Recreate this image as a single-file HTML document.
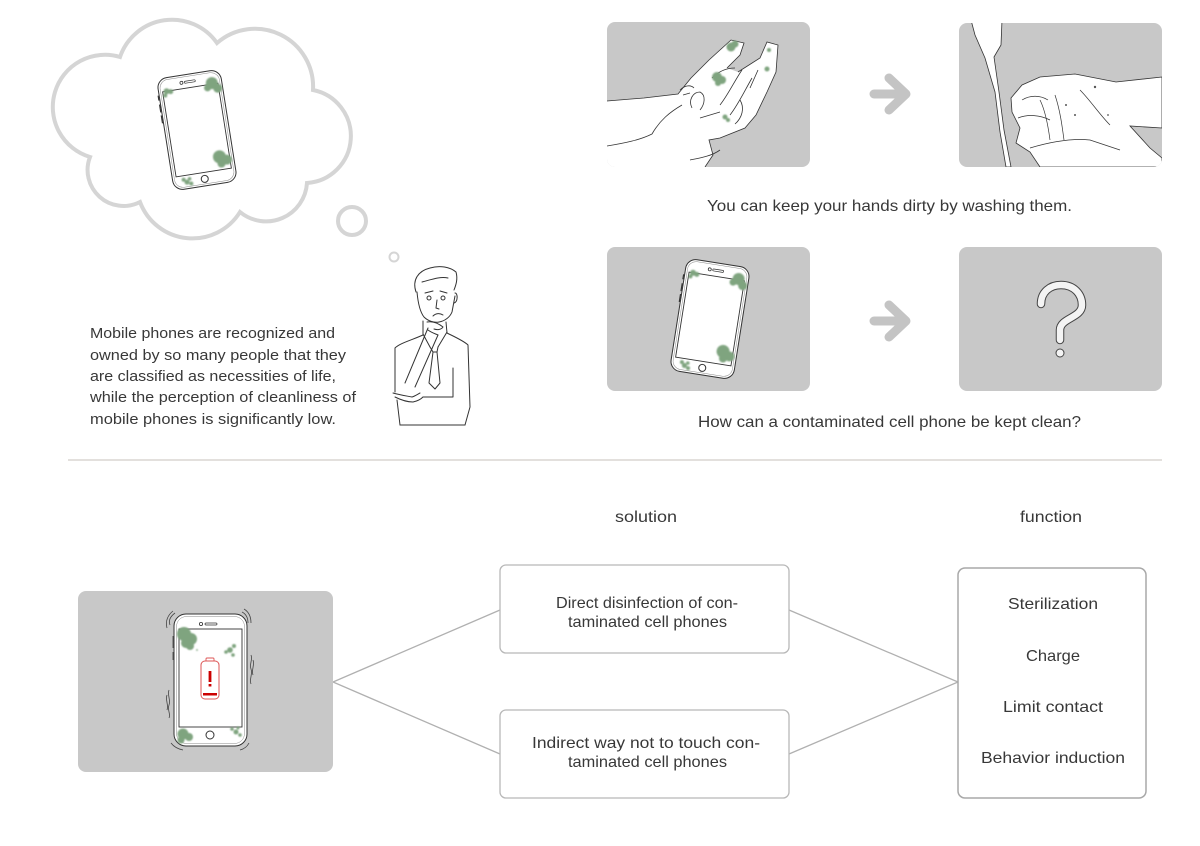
<!DOCTYPE html>
<html>
<head>
<meta charset="utf-8">
<style>
html,body{margin:0;padding:0;background:#fff;}
svg{display:block;}
text{font-family:"Liberation Sans",sans-serif;fill:#383838;}
</style>
</head>
<body>
<svg width="1200" height="846" viewBox="0 0 1200 846" xmlns="http://www.w3.org/2000/svg">
<defs>
  <filter id="bl" x="-50%" y="-50%" width="200%" height="200%"><feGaussianBlur stdDeviation="0.8"/></filter>
  <clipPath id="c1"><rect x="607" y="22" width="203" height="145" rx="8"/></clipPath>
  <clipPath id="c2"><rect x="959" y="23" width="203" height="144" rx="8"/></clipPath>
  <g id="phone">
    <rect x="-32" y="-56.5" width="64" height="113" rx="10" fill="#fff" stroke="#333" stroke-width="1"/>
    <rect x="-30" y="-54.5" width="60" height="109" rx="8.5" fill="none" stroke="#888" stroke-width="0.5"/>
    <rect x="-28" y="-43" width="56" height="86" fill="#fff" stroke="#333" stroke-width="0.9"/>
    <circle cx="0" cy="49.5" r="3.5" fill="none" stroke="#333" stroke-width="1"/>
    <circle cx="-8" cy="-49" r="1.5" fill="none" stroke="#333" stroke-width="0.8"/>
    <rect x="-5" y="-50" width="11" height="2" rx="1" fill="none" stroke="#333" stroke-width="0.7"/>
    <path d="M-33,-40 v5 M-33,-31 v8 M-33,-20 v8" stroke="#333" stroke-width="1.2" fill="none"/>
    <g fill="#7fa47f" filter="url(#bl)">
      <circle cx="-24" cy="-43" r="3"/><circle cx="-20" cy="-42" r="2.5"/><circle cx="-26" cy="-39" r="2"/>
      <circle cx="22" cy="-44" r="6"/><circle cx="27" cy="-38" r="4.5"/><circle cx="17" cy="-40" r="3.5"/>
      <circle cx="18" cy="30" r="6.5"/><circle cx="25" cy="34" r="5"/><circle cx="19" cy="37" r="4"/>
      <circle cx="-18" cy="50" r="2.5"/><circle cx="-21" cy="47" r="2"/><circle cx="-14" cy="52" r="2"/><circle cx="-15" cy="47" r="1.8"/>
    </g>
  </g>
</defs>

<!-- Thought cloud -->
<path d="M120,57 A55,55 0 0 1 217,43 A58,58 0 0 1 313,90 A47,47 0 0 1 307,183 A41,41 0 0 1 240,212 A56,56 0 0 1 140,202 A36,36 0 0 1 90,157 A52,52 0 0 1 120,57 Z" fill="#fff" stroke="#d5d5d5" stroke-width="4"/>
<circle cx="352" cy="221" r="14" fill="#fff" stroke="#d5d5d5" stroke-width="4"/>
<circle cx="394" cy="257" r="4.5" fill="#fff" stroke="#d5d5d5" stroke-width="2"/>
<use href="#phone" transform="translate(197,130) rotate(-9)"/>

<!-- Man -->
<g fill="none" stroke="#333" stroke-width="1" stroke-linecap="round" stroke-linejoin="round">
  <path d="M416,292 C412,280 418,271 430,268 C440,265 450,267 456,272 C458,279 456,285 454,290"/>
  <path d="M422,282 C430,280 440,276 448,278"/>
  <path d="M417,292 C418,303 420,312 424,317 C428,321 434,323 439,322 C445,321 450,317 452,312 L455,296"/>
  <path d="M455,293 C458,293 458,302 454,303"/>
  <path d="M425,293 L433,291 M440,291 L447,293"/>
  <circle cx="429" cy="298" r="2"/><circle cx="443" cy="298" r="2"/>
  <path d="M437,300 L436,308 L439,309"/>
  <path d="M433,316 C436,313 440,313 443,315"/>
  <path d="M423,321 L423,335 M446,322 L447,333"/>
  <path d="M423,334 L430,347 M447,332 L438,347"/>
  <path d="M423,335 C412,340 400,343 395,348 L395,392 M397,400 L400,425"/>
  <path d="M447,333 C455,337 464,341 468,345 L470,407 L465,425"/>
  <path d="M400,425 L465,425"/>
  <path d="M430,347 L433,352 L429,383 L435,389 L440,383 L437,352 L438,347"/>
  <path d="M433,352 L437,352"/>
  <path d="M427,322 C432,321 438,323 443,327 C441,330 437,330 434,329 M428,330 C432,333 436,334 438,335"/>
  <path d="M428,328 L405,383 M438,335 L415,387"/>
  <path d="M393,393 C400,395 407,396 412,397 C415,396 418,394 420,393 M395,397 C401,400 407,402 413,402 C418,401 421,399 423,397"/>
  <path d="M453,368 L453,397 L423,397"/>
</g>

<!-- Paragraph -->
<g font-size="15">
  <text x="90" y="338" textLength="245" lengthAdjust="spacingAndGlyphs">Mobile phones are recognized and</text>
  <text x="90" y="360" textLength="256" lengthAdjust="spacingAndGlyphs">owned by so many people that they</text>
  <text x="90" y="381" textLength="246" lengthAdjust="spacingAndGlyphs">are classified as necessities of life,</text>
  <text x="90" y="402" textLength="266" lengthAdjust="spacingAndGlyphs">while the perception of cleanliness of</text>
  <text x="90" y="424" textLength="246" lengthAdjust="spacingAndGlyphs">mobile phones is significantly low.</text>
</g>

<!-- Panel 1: dirty hand -->
<rect x="607" y="22" width="203" height="145" rx="8" fill="#c8c8c8"/>
<g clip-path="url(#c1)">
  <path d="M607,101 L644,98 L678,94 L691,78 L709,60 L731,40 L744,43 L740,55 L727,68 L738,72 L760,58 L767,42 L778,45 L776,72 L767,92 L756,115 L745,128 L720,138 L709,140 L713,155 L705,167 L607,167 Z" fill="#fff"/>
  <g fill="none" stroke="#333" stroke-width="0.8">
    <path d="M607,101 L644,98 L678,94 L691,78 L709,60 L731,40 L744,43 L740,55 L727,68"/>
    <path d="M738,72 L760,58 L767,42 L778,45 L776,72 L767,92 L756,115 L745,128 L720,138 L709,140 L713,155 L705,167"/>
    <path d="M607,146 C625,143 640,140 652,134 C660,120 670,112 682,105"/>
    <path d="M692,108 C688,100 693,92 700,92 C706,95 705,104 700,110"/>
    <path d="M680,90 C684,86 690,84 694,88 M683,95 L690,93"/>
    <path d="M720,105 C728,95 735,80 742,70 M730,115 C738,105 745,90 752,78"/>
    <path d="M712,78 C718,72 726,68 735,68 M700,118 L720,112"/>
    <path d="M740,100 C745,108 742,118 735,124 M750,88 L758,70"/>
    <path d="M690,160 C700,158 712,156 720,150"/>
  </g>
  <g fill="#7fa47f" filter="url(#bl)">
    <circle cx="731" cy="47" r="4.5"/><circle cx="735" cy="44" r="3.5"/>
    <circle cx="717" cy="77" r="5"/><circle cx="722" cy="80" r="4"/><circle cx="718" cy="83" r="3"/>
    <circle cx="769" cy="50" r="2"/><circle cx="767" cy="69" r="2.5"/>
    <circle cx="725" cy="117" r="2.5"/><circle cx="728" cy="120" r="2"/>
  </g>
</g>

<!-- Arrow 1 -->
<path d="M874,94 L905,94 M889,78 L906,94 L889,110" fill="none" stroke="#c4c4c4" stroke-width="9" stroke-linecap="round" stroke-linejoin="round"/>

<!-- Panel 2: washing -->
<rect x="959" y="23" width="203" height="144" rx="8" fill="#c8c8c8"/>
<g clip-path="url(#c2)">
  <path d="M971,20 L1002,20 L1001,45 L994,57 L999,92 L1004,130 L1011,167 L1006,167 L1000,132 L995,92 L985,58 L975,35 Z" fill="#fff" stroke="#333" stroke-width="0.8"/>
  <path d="M1011,98 L1022,85 L1040,77 L1075,74 L1116,82 L1162,77 L1162,128 L1130,126 L1150,148 L1162,158 L1162,167 L1040,167 L1030,152 L1016,143 L1020,128 L1012,112 Z" fill="#fff" stroke="#333" stroke-width="0.8"/>
  <g fill="none" stroke="#333" stroke-width="0.7">
    <path d="M1022,100 C1030,95 1040,95 1048,100 M1018,118 C1028,114 1040,115 1050,120"/>
    <path d="M1040,100 C1045,110 1048,125 1050,140 M1055,95 C1060,110 1062,125 1064,140"/>
    <path d="M1030,148 C1050,142 1070,138 1090,140 L1120,150"/>
    <path d="M1080,90 C1090,100 1100,115 1110,125"/>
  </g>
  <g fill="#555"><circle cx="1095" cy="87" r="1.2"/><circle cx="1066" cy="105" r="1"/><circle cx="1075" cy="115" r="1"/><circle cx="1108" cy="115" r="0.9"/></g>
</g>

<text x="707" y="211" font-size="16" textLength="365" lengthAdjust="spacingAndGlyphs">You can keep your hands dirty by washing them.</text>

<!-- Panel 3: phone -->
<rect x="607" y="247" width="203" height="144" rx="8" fill="#c8c8c8"/>
<use href="#phone" transform="translate(710,319) rotate(9)"/>

<!-- Arrow 2 -->
<path d="M874,321 L905,321 M889,305 L906,321 L889,337" fill="none" stroke="#c4c4c4" stroke-width="9" stroke-linecap="round" stroke-linejoin="round"/>

<!-- Panel 4: question -->
<rect x="959" y="247" width="203" height="144" rx="8" fill="#c8c8c8"/>
<path d="M1041,304 C1041,292 1050,285 1061,285 C1074,285 1082,294 1082,305 C1082,318 1060,318 1060,330 L1060,340" fill="none" stroke="#444" stroke-width="8.5" stroke-linecap="round" stroke-linejoin="round"/>
<path d="M1041,304 C1041,292 1050,285 1061,285 C1074,285 1082,294 1082,305 C1082,318 1060,318 1060,330 L1060,340" fill="none" stroke="#f4f4f4" stroke-width="6.5" stroke-linecap="round" stroke-linejoin="round"/>
<circle cx="1060" cy="353" r="4" fill="#f4f4f4" stroke="#444" stroke-width="1"/>

<text x="698" y="427" font-size="16" textLength="383" lengthAdjust="spacingAndGlyphs">How can a contaminated cell phone be kept clean?</text>

<!-- Separator -->
<rect x="68" y="459" width="1094" height="2" fill="#e3e0dd"/>

<!-- Headers -->
<text x="615" y="522" font-size="16" textLength="62" lengthAdjust="spacingAndGlyphs">solution</text>
<text x="1020" y="522" font-size="16" textLength="62" lengthAdjust="spacingAndGlyphs">function</text>

<!-- Connectors -->
<g stroke="#b0b0b0" stroke-width="1.3" fill="none">
  <path d="M500,610 L333,682 L500,754"/>
  <path d="M789,610 L958,682 L789,754"/>
</g>

<!-- Bottom-left panel -->
<rect x="78" y="591" width="255" height="181" rx="8" fill="#c8c8c8"/>
<g>
  <rect x="174" y="614" width="73" height="132" rx="12" fill="#fff" stroke="#333" stroke-width="1"/>
  <rect x="176.5" y="616.5" width="68" height="127" rx="10" fill="none" stroke="#888" stroke-width="0.5"/>
  <rect x="179" y="629" width="63" height="98" fill="#fff" stroke="#333" stroke-width="0.9"/>
  <circle cx="210" cy="735" r="4" fill="none" stroke="#333" stroke-width="1"/>
  <circle cx="201" cy="624" r="1.6" fill="none" stroke="#333" stroke-width="0.8"/>
  <rect x="205" y="623" width="12" height="2" rx="1" fill="none" stroke="#333" stroke-width="0.7"/>
  <g fill="none" stroke="#444" stroke-width="0.8">
    <path d="M170,625 C168,620 171,616 175,613 M167,628 C165,621 168,615 173,611"/>
    <path d="M242,612 C246,614 248,618 248,623 M244,609 C249,612 251,617 251,623"/>
    <path d="M251,655 C253,660 249,664 251,669 C253,674 249,679 251,684 M253,660 C255,665 251,670 253,675"/>
    <path d="M169,690 C167,695 171,700 169,705 C167,710 171,714 169,718 M167,695 C165,700 169,705 167,710"/>
    <path d="M171,743 C174,747 178,749 183,750 M240,750 C244,749 247,747 249,743"/>
    <path d="M173,636 v12 M173,652 v8"/>
  </g>
  <g fill="#7fa47f" filter="url(#bl)">
    <circle cx="184" cy="634" r="7"/><circle cx="191" cy="639" r="6"/><circle cx="186" cy="643" r="5"/><circle cx="190" cy="646" r="4"/>
    <circle cx="197" cy="650" r="0.9"/>
    <circle cx="230" cy="650" r="2.8"/><circle cx="234" cy="646" r="2"/><circle cx="226" cy="652" r="1.8"/><circle cx="233" cy="655" r="1.8"/>
    <circle cx="183" cy="734" r="5.5"/><circle cx="189" cy="737" r="4"/><circle cx="181" cy="740" r="3.5"/>
    <circle cx="236" cy="732" r="2.5"/><circle cx="232" cy="729" r="1.8"/><circle cx="240" cy="735" r="1.8"/><circle cx="238" cy="728" r="1.5"/>
  </g>
  <rect x="206" y="658" width="8" height="4" rx="1" fill="#fff" stroke="#d55" stroke-width="0.9"/>
  <rect x="201" y="661" width="18" height="38" rx="4" fill="#fff" stroke="#d55" stroke-width="1"/>
  <rect x="208.6" y="671" width="2.8" height="11" fill="#c00"/>
  <rect x="208.6" y="684" width="2.8" height="2.5" fill="#c00"/>
  <rect x="203" y="693" width="14" height="2.5" fill="#c00"/>
</g>

<!-- Solution boxes -->
<rect x="500" y="565" width="289" height="88" rx="6" fill="#fff" stroke="#b8b8b8" stroke-width="1.3"/>
<rect x="500" y="710" width="289" height="88" rx="6" fill="#fff" stroke="#b8b8b8" stroke-width="1.3"/>
<g font-size="16">
  <text x="556" y="608" textLength="182" lengthAdjust="spacingAndGlyphs">Direct disinfection of con-</text>
  <text x="568" y="627" textLength="159" lengthAdjust="spacingAndGlyphs">taminated cell phones</text>
  <text x="532" y="748" textLength="228" lengthAdjust="spacingAndGlyphs">Indirect way not to touch con-</text>
  <text x="568" y="767" textLength="159" lengthAdjust="spacingAndGlyphs">taminated cell phones</text>
</g>

<!-- Function box -->
<rect x="958" y="568" width="188" height="230" rx="7" fill="#fff" stroke="#a8a8a8" stroke-width="1.5"/>
<g font-size="16">
  <text x="1008" y="609" textLength="90" lengthAdjust="spacingAndGlyphs">Sterilization</text>
  <text x="1026" y="661" textLength="54" lengthAdjust="spacingAndGlyphs">Charge</text>
  <text x="1003" y="712" textLength="100" lengthAdjust="spacingAndGlyphs">Limit contact</text>
  <text x="981" y="763" textLength="144" lengthAdjust="spacingAndGlyphs">Behavior induction</text>
</g>
</svg>
</body>
</html>
